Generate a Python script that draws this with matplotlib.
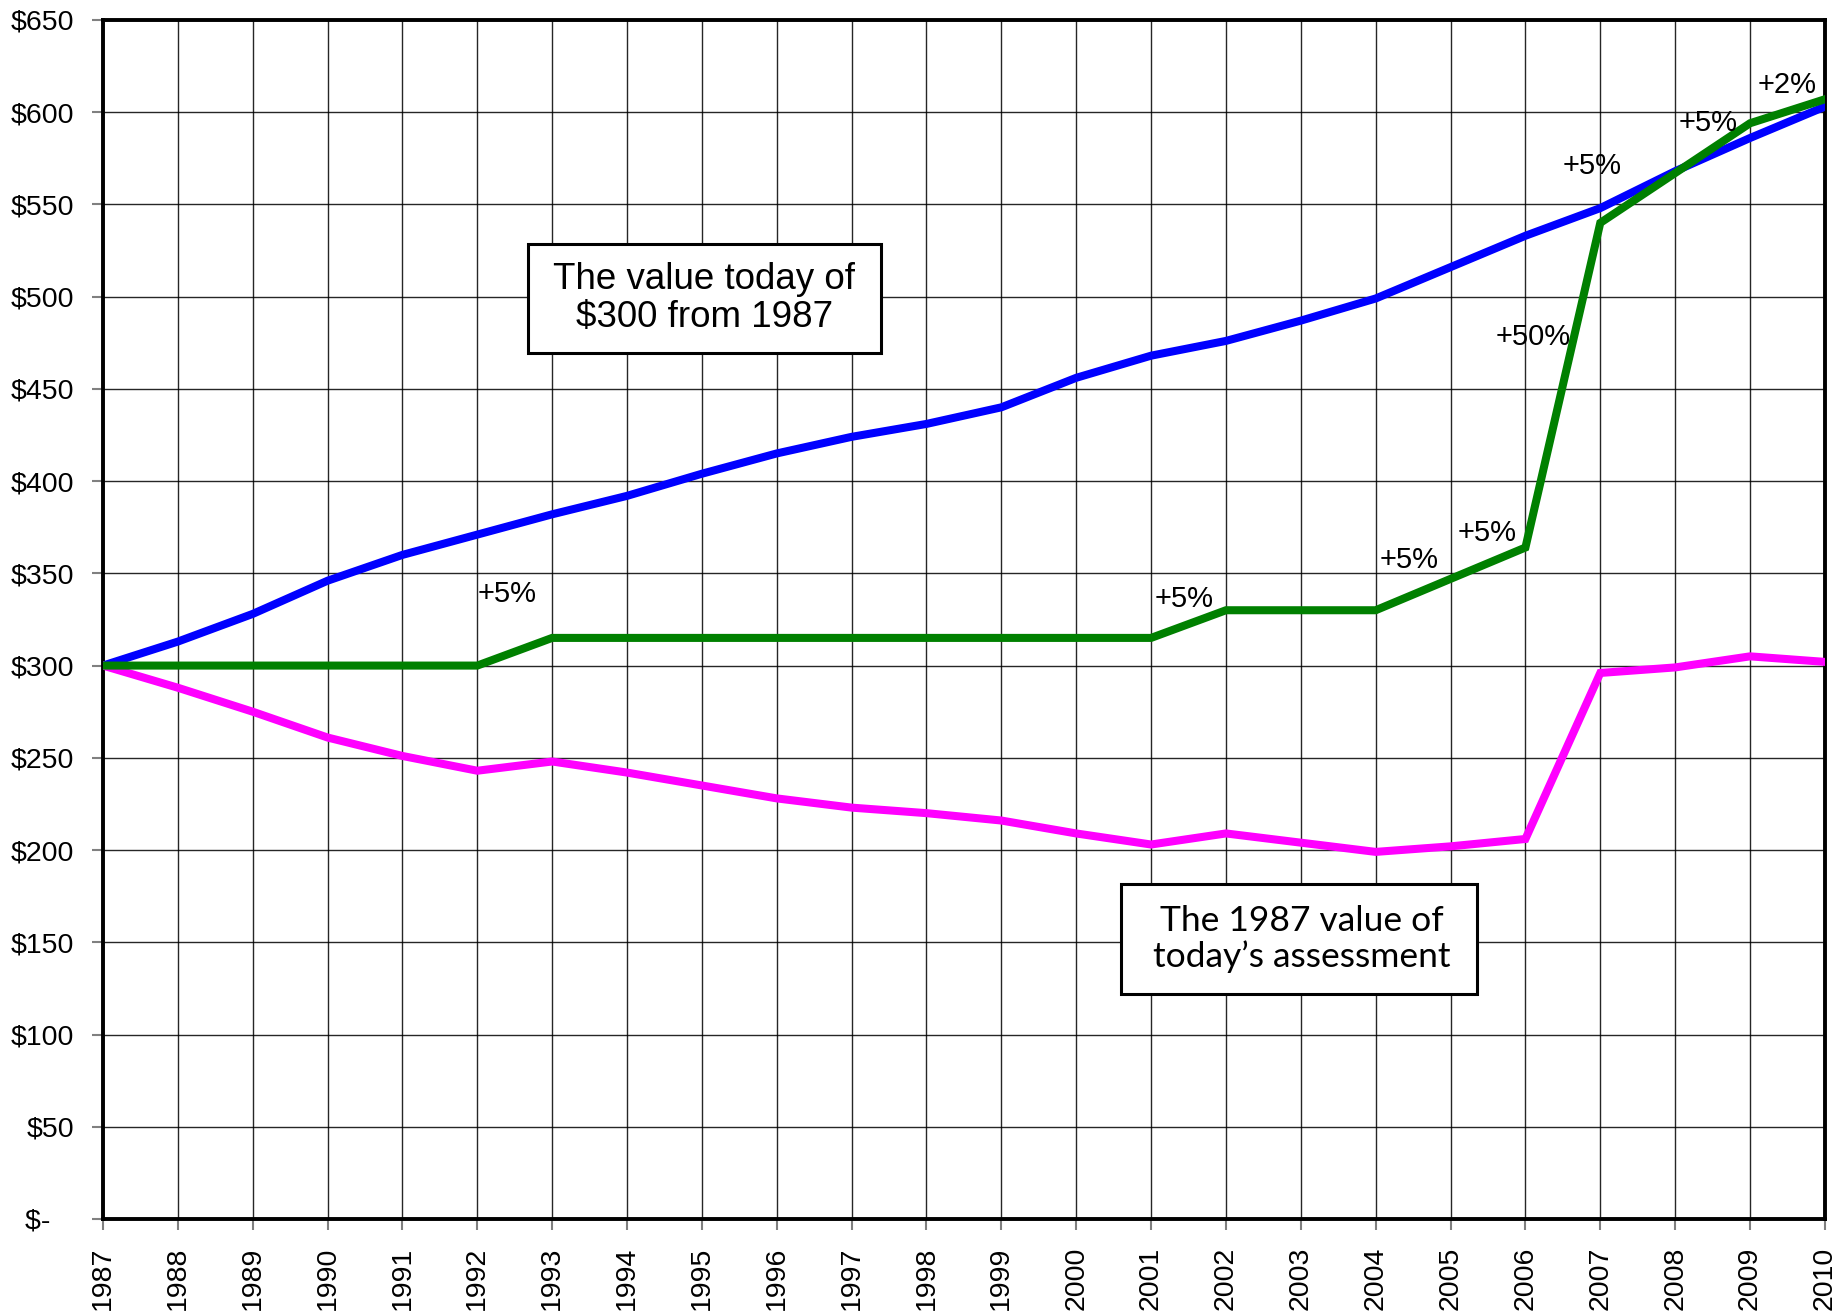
import matplotlib
matplotlib.use("Agg")
import matplotlib.pyplot as plt
from matplotlib.ticker import FuncFormatter
from matplotlib.patches import Rectangle

years = list(range(1987, 2011))
value_today = [300, 313, 328, 346, 360, 371, 382, 392, 404, 415, 424, 431, 440, 456, 468, 476, 487, 499, 516, 533, 548, 568, 586, 603]
assessment = [300, 300, 300, 300, 300, 300, 315, 315, 315, 315, 315, 315, 315, 315, 315, 330, 330, 330, 347, 364, 540, 567, 594, 607]
value_1987 = [300, 288, 275, 261, 251, 243, 248, 242, 235, 228, 223, 220, 216, 209, 203, 209, 204, 199, 202, 206, 296, 299, 305, 302]

ann_labels = ["+5%", "+5%", "+5%", "+5%", "+50%", "+5%", "+5%", "+2%"]
ann_x = [1992.0, 2001.05, 2004.05, 2005.1, 2005.6, 2006.5, 2008.05, 2009.1]
ann_y = [339, 336, 357, 372, 478, 571, 594, 615]

yticks = list(range(0, 651, 50))

plt.rcParams['font.family'] = ['Liberation Sans', 'DejaVu Sans']

fig = plt.figure(figsize=(18.45, 13.12), dpi=100)
ax = fig.add_axes([0.0558, 0.0709, 0.9333, 0.9139])

ax.plot(years, value_today, color='#0000FF', lw=5.8, solid_joinstyle='miter', zorder=3)
ax.plot(years, assessment, color='#008000', lw=5.8, solid_joinstyle='miter', zorder=4)
ax.plot(years, value_1987, color='#FF00FF', lw=5.8, solid_joinstyle='miter', zorder=3)

ax.set_xlim(1987, 2010)
ax.set_ylim(0, 650)
ax.set_xticks(years)
ax.set_xticklabels([str(y) for y in years], rotation=90, fontsize=20.5)
ax.set_yticks(yticks)
ax.yaxis.set_major_formatter(FuncFormatter(lambda v, p: "$-   " if v == 0 else f"${int(v)}"))
ax.tick_params(axis='y', labelsize=20.5, length=8, width=1.5, color='#808080', pad=13)
ax.tick_params(axis='x', labelsize=20.5, length=8, width=1.5, color='#808080', pad=12)

ax.grid(True, color='black', lw=1.0, alpha=0.85, zorder=0)
ax.set_axisbelow(True)
for s in ax.spines.values():
    s.set_linewidth(2.8)
    s.set_color('black')

for t, x, y in zip(ann_labels, ann_x, ann_y):
    ax.text(x, y, t, fontsize=21, ha='left', va='center', zorder=5)

ax.add_patch(Rectangle((0.2468, 0.7223), 0.2050, 0.0909, transform=ax.transAxes,
                       fc='white', ec='black', lw=2.2, zorder=6))
ax.text(0.3493, 0.7675, "The value today of\n$300 from 1987", transform=ax.transAxes,
        fontsize=26.5, ha='center', va='center', linespacing=1.1, zorder=7)

ax.add_patch(Rectangle((0.5912, 0.1877), 0.2067, 0.0917, transform=ax.transAxes,
                       fc='white', ec='black', lw=2.2, zorder=6))
ax.text(0.6960, 0.2335, "The 1987 value of\ntoday\u2019s assessment", transform=ax.transAxes,
        fontsize=25.5, ha='center', va='center', linespacing=1.1, zorder=7,
        family=['Lato', 'DejaVu Sans'])

fig.savefig("out.png", dpi=100)
